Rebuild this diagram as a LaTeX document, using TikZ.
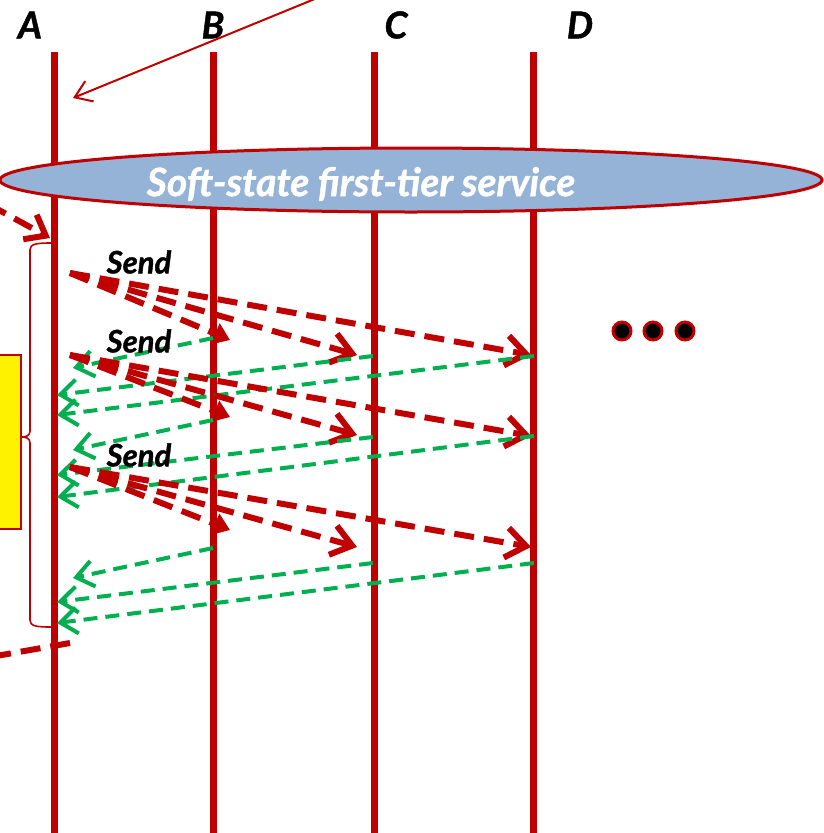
\documentclass[tikz,border=0pt]{standalone}
\usepackage{fontspec}
\setmainfont{Lato}
\newfontfamily\heavy{Lato}[BoldItalicFeatures={FakeBold=1.2}]
\usetikzlibrary{arrows.meta,shapes.geometric}
\definecolor{myred}{HTML}{C00000}
\definecolor{mygreen}{HTML}{00B050}
\definecolor{myblue}{HTML}{95B3D7}
\begin{document}
\begin{tikzpicture}[x=1pt,y=-1pt,
  life/.style={draw=myred,line width=7pt},
  procname/.style={font=\heavy\fontsize{37}{37}\selectfont\bfseries\itshape,text=black},
  sendlbl/.style={font=\heavy\fontsize{31}{31}\selectfont\bfseries\itshape,text=black},
  req/.style={draw=myred,line width=6pt,dash pattern=on 20pt off 10pt,
    -{Straight Barb[length=20pt,width=30pt]}},
  reqb/.style={draw=myred,line width=6pt,dash pattern=on 20pt off 10pt,
    -{Triangle[length=16pt,width=22pt]}},
  reply/.style={draw=mygreen,line width=4pt,dash pattern=on 14pt off 8pt,
    -{Straight Barb[length=17pt,width=26pt]}},
  dot/.style={circle,draw=myred,fill=black,line width=3pt,minimum size=18pt,inner sep=0pt}]
\useasboundingbox (0,0) rectangle (824,833);

% process labels
\node[procname] (lA) at (30,25) {A};
\node[procname] (lB) at (213,25) {B};
\node[procname] (lC) at (396,25) {C};
\node[procname] (lD) at (580,25) {D};

% lifelines
\foreach \n/\x in {A/54,B/213.5,C/374,D/533.5}{
  \coordinate (top\n) at (\x,52);
  \coordinate (bot\n) at (\x,833);
  \draw[life] (top\n) -- (bot\n);
}

% incoming pointer at the top
\coordinate (ptrS) at (322,-4);
\coordinate (ptrE) at (73,98);
\draw[myred,line width=2pt,-{Straight Barb[length=16pt,width=22pt]}] (ptrS) -- (ptrE);

% service ellipse
\node[ellipse,draw=myred,fill=myblue,line width=3pt,minimum width=822pt,minimum height=64pt,inner sep=0pt]
  (svc) at (411,180) {};
\node[font=\heavy\fontsize{39}{39}\selectfont\bfseries\itshape,text=white] (svctxt) at (361,184) {Soft-state first-tier service};

% incoming request from the left
\coordinate (inS) at (-12,204);
\coordinate (inE) at (50,238);
\draw[myred,line width=6pt,dash pattern=on 20pt off 10pt,-{Straight Barb[length=18pt,width=28pt]}] (inS) -- (inE);

% outgoing reply to the left
\coordinate (outS) at (70,643);
\coordinate (outE) at (-4,656);
\draw[myred,line width=6pt,dash pattern=on 20pt off 10pt] (outS) -- (outE);

% brace
\draw[myred,line width=1.6pt] (51,243) .. controls (36,243) and (30,244) .. (30,250)
  -- (30,431) .. controls (30,436) and (26,437) .. (21,437)
  .. controls (26,437) and (30,438) .. (30,443)
  -- (30,620) .. controls (30,626) and (36,627) .. (51,627);

% note box at the left edge
\node[draw=myred,fill=yellow,line width=2pt,minimum width=40pt,minimum height=174pt,inner sep=0pt]
  (note) at (1,442) {};

% three rounds of sends
\foreach \k/\ys/\yb/\yc/\yd/\gb/\gbe/\gc/\gce/\gd/\gde in
  {1/273/340/355/355/338/368/356/395/356/415,
   2/355/417/435/436/420/450/437/475/436/497,
   3/467/530/547/547/548/578/563/602/563/623}{
  \coordinate (s\k) at (70,\ys);
  \coordinate (tb\k) at (230,\yb);
  \coordinate (tc\k) at (357,\yc);
  \coordinate (td\k) at (531,\yd);
  \draw[reqb] (s\k) -- (tb\k);
  \draw[req] (s\k) -- (tc\k);
  \draw[req] (s\k) -- (td\k);
  \coordinate (rb\k) at (213,\gb);
  \coordinate (rbe\k) at (73,\gbe);
  \coordinate (rc\k) at (373,\gc);
  \coordinate (rce\k) at (57,\gce);
  \coordinate (rd\k) at (534,\gd);
  \coordinate (rde\k) at (57,\gde);
  \draw[reply] (rb\k) -- (rbe\k);
  \draw[reply] (rc\k) -- (rce\k);
  \draw[reply] (rd\k) -- (rde\k);
}

% send labels
\node[sendlbl] (send1) at (139,262) {Send};
\node[sendlbl] (send2) at (139,341) {Send};
\node[sendlbl] (send3) at (139,455) {Send};

% ellipsis dots
\node[dot] (d1) at (622,331) {};
\node[dot] (d2) at (653,331) {};
\node[dot] (d3) at (685,331) {};
\end{tikzpicture}
\end{document}
